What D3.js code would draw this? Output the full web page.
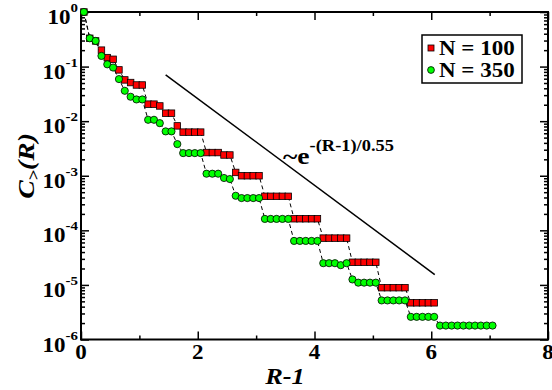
<!DOCTYPE html>
<html>
<head>
<meta charset="utf-8">
<script src="https://cdn.jsdelivr.net/npm/d3@7/dist/d3.min.js"></script>
<style>
    body { margin: 0; background: #fff; }
</style>
</head>
<body>
<div id="chart"></div>
<script>
// R-1 values shared by both series (N = 100 stops at 6.05)
const rMinus1 = [
    0.05, 0.15, 0.25, 0.35, 0.45, 0.55, 0.65, 0.75, 0.85, 0.95,
    1.05, 1.15, 1.25, 1.35, 1.45, 1.55, 1.65, 1.75, 1.85, 1.95,
    2.05, 2.15, 2.25, 2.35, 2.45, 2.55, 2.65, 2.75, 2.85, 2.95,
    3.05, 3.15, 3.25, 3.35, 3.45, 3.55, 3.65, 3.75, 3.85, 3.95,
    4.05, 4.15, 4.25, 4.35, 4.45, 4.55, 4.65, 4.75, 4.85, 4.95,
    5.05, 5.15, 5.25, 5.35, 5.45, 5.55, 5.65, 5.75, 5.85, 5.95,
    6.05, 6.15, 6.25, 6.35, 6.45, 6.55, 6.65, 6.75, 6.85, 6.95,
    7.05
];

const cN100 = [
    1, 0.33, 0.295, 0.2, 0.146, 0.136, 0.087, 0.057, 0.051, 0.046,
    0.046, 0.0205, 0.0205, 0.019, 0.014, 0.014, 0.0082, 0.0063, 0.0063, 0.0063,
    0.0063, 0.00266, 0.00266, 0.00266, 0.0024, 0.0024, 0.00115, 0.001, 0.001, 0.001,
    0.001, 0.00042, 0.00042, 0.00042, 0.00042, 0.00042, 0.000163, 0.000163, 0.000163, 0.000163,
    0.000163, 7.2e-5, 7.2e-5, 7.2e-5, 7.2e-5, 7.2e-5, 2.6e-5, 2.6e-5, 2.6e-5, 2.6e-5,
    2.6e-5, 8.9e-6, 8.9e-6, 8.9e-6, 8.9e-6, 8.9e-6, 4.7e-6, 4.7e-6, 4.7e-6, 4.7e-6,
    4.7e-6
];

const cN350 = [
    1, 0.33, 0.295, 0.157, 0.11, 0.096, 0.059, 0.036, 0.028, 0.025,
    0.025, 0.0106, 0.0106, 0.0092, 0.0065, 0.0065, 0.0038, 0.0026, 0.0026, 0.0026,
    0.0026, 0.00109, 0.00109, 0.00109, 0.00091, 0.00087, 0.00043, 0.00039, 0.00039, 0.00039,
    0.00039, 0.000162, 0.000162, 0.000162, 0.000162, 0.000162, 6.4e-5, 6.4e-5, 6.4e-5, 6.4e-5,
    6.4e-5, 2.5e-5, 2.5e-5, 2.5e-5, 2.3e-5, 2.5e-5, 1.26e-5, 1.1e-5, 1.1e-5, 1.1e-5,
    1.1e-5, 5.2e-6, 5.2e-6, 5.2e-6, 5.2e-6, 5.2e-6, 2.6e-6, 2.6e-6, 2.6e-6, 2.6e-6,
    2.6e-6, 1.8e-6, 1.8e-6, 1.8e-6, 1.8e-6, 1.8e-6, 1.8e-6, 1.8e-6, 1.8e-6, 1.8e-6,
    1.8e-6
];

const seriesNames = ["N = 100", "N = 350"];
const xMajorTicks = [0, 2, 4, 6, 8];
const xMinorTicks = [1, 3, 5, 7];
const yExponents = [0, -1, -2, -3, -4, -5, -6];
// end points of the guide line ~ e^{-(R-1)/0.55}
const guideX = [1.45, 6.06];
const guideY = [0.0705, 1.55e-5];

const W = 552, H = 390;
const plot = { left: 81, right: 548, top: 12, bottom: 339.5 };
const STRETCH = 1.15; // the reference glyphs are drawn a bit wider than Times
const FONT = "Liberation Serif";

const svg = d3.select("#chart").append("svg")
    .attr("width", W)
    .attr("height", H);

const x = d3.scaleLinear().domain([0, 8]).range([plot.left, plot.right]);
const y = d3.scaleLog().domain([1e-6, 1]).range([plot.bottom, plot.top]);

// Places a horizontally stretched text element
function label(parent, px, py, anchor, rotate) {
    return parent.append("g")
        .attr("transform", `translate(${px},${py})${rotate ? " rotate(" + rotate + ")" : ""} scale(${STRETCH},1)`)
        .append("text")
        .attr("font-family", FONT)
        .attr("font-weight", "bold")
        .attr("fill", "#000")
        .attr("text-anchor", anchor);
}

// Axes with inward ticks
const yMajor = yExponents.map((e) => Math.pow(10, e));
const yMinor = [];
yExponents.slice(1).forEach((e) => {
    for (let m = 2; m <= 9; m++) yMinor.push(m * Math.pow(10, e));
});

function styleAxis(g) {
    g.select(".domain").remove();
    g.selectAll(".tick line").attr("stroke", "#000").attr("stroke-width", 1.5);
    g.selectAll(".tick text").remove();
}

const axes = [
    [d3.axisBottom(x).tickValues(xMajorTicks).tickSize(-8), `translate(0,${plot.bottom})`],
    [d3.axisBottom(x).tickValues(xMinorTicks).tickSize(-4), `translate(0,${plot.bottom})`],
    [d3.axisTop(x).tickValues(xMajorTicks).tickSize(-8), `translate(0,${plot.top})`],
    [d3.axisTop(x).tickValues(xMinorTicks).tickSize(-4), `translate(0,${plot.top})`],
    [d3.axisLeft(y).tickValues(yMajor).tickSize(-8), `translate(${plot.left},0)`],
    [d3.axisLeft(y).tickValues(yMinor).tickSize(-4), `translate(${plot.left},0)`],
    [d3.axisRight(y).tickValues(yMajor).tickSize(-8), `translate(${plot.right},0)`],
    [d3.axisRight(y).tickValues(yMinor).tickSize(-4), `translate(${plot.right},0)`],
];
axes.forEach(([axis, tr]) => {
    svg.append("g").attr("transform", tr).call(axis).call(styleAxis);
});

svg.append("rect")
    .attr("x", plot.left)
    .attr("y", plot.top)
    .attr("width", plot.right - plot.left)
    .attr("height", plot.bottom - plot.top)
    .attr("fill", "none")
    .attr("stroke", "#000")
    .attr("stroke-width", 2);

// Tick labels
xMajorTicks.forEach((v) => {
    label(svg, x(v), plot.bottom + 19, "middle")
        .attr("font-size", 20)
        .text(v);
});

yExponents.forEach((e) => {
    const t = label(svg, plot.left - 3, y(Math.pow(10, e)) + 12, "end")
        .attr("font-size", 20);
    t.append("tspan").text("10");
    t.append("tspan")
        .attr("dy", -12)
        .attr("font-size", 13)
        .text(e === 0 ? "0" : "-" + Math.abs(e));
});

// Axis titles
label(svg, 285, 384, "middle")
    .attr("font-size", 23)
    .attr("font-style", "italic")
    .text("R-1");

const yt = label(svg, 34, 166, "middle", -90)
    .attr("font-size", 24)
    .attr("font-style", "italic");
yt.append("tspan").text("C");
yt.append("tspan").attr("dy", 5).attr("font-size", 16).text(">");
yt.append("tspan").attr("dy", -5).text("(R)");

// Series
const dataN100 = cN100.map((c, i) => [rMinus1[i], c]);
const dataN350 = cN350.map((c, i) => [rMinus1[i], c]);

const line = d3.line().x((d) => x(d[0])).y((d) => y(d[1]));

[dataN100, dataN350].forEach((data) => {
    svg.append("path")
        .datum(data)
        .attr("fill", "none")
        .attr("stroke", "#000")
        .attr("stroke-width", 1)
        .attr("stroke-dasharray", "4,3")
        .attr("d", line);
});

const sq = 6.5;
svg.append("g").selectAll("rect")
    .data(dataN100)
    .join("rect")
    .attr("x", (d) => x(d[0]) - sq / 2)
    .attr("y", (d) => y(d[1]) - sq / 2)
    .attr("width", sq)
    .attr("height", sq)
    .attr("fill", "#ff0000")
    .attr("stroke", "#000")
    .attr("stroke-width", 0.8);

svg.append("g").selectAll("circle")
    .data(dataN350)
    .join("circle")
    .attr("cx", (d) => x(d[0]))
    .attr("cy", (d) => y(d[1]))
    .attr("r", 3.6)
    .attr("fill", "#00ff00")
    .attr("stroke", "#000")
    .attr("stroke-width", 0.8);

// Guide line and its label
svg.append("line")
    .attr("x1", x(guideX[0]))
    .attr("y1", y(guideY[0]))
    .attr("x2", x(guideX[1]))
    .attr("y2", y(guideY[1]))
    .attr("stroke", "#000")
    .attr("stroke-width", 1.5);

const ann = label(svg, 283, 164, "start").attr("font-size", 24);
ann.append("tspan").text("~e");
ann.append("tspan")
    .attr("dy", -13)
    .attr("font-size", 16)
    .text("-(R-1)/0.55");

// Legend
const lg = svg.append("g");
lg.append("rect")
    .attr("x", 422)
    .attr("y", 35)
    .attr("width", 100)
    .attr("height", 48)
    .attr("fill", "#fff")
    .attr("stroke", "#000")
    .attr("stroke-width", 1.5);
lg.append("rect")
    .attr("x", 431 - 3)
    .attr("y", 48 - 3)
    .attr("width", 6)
    .attr("height", 6)
    .attr("fill", "#ff0000")
    .attr("stroke", "#000")
    .attr("stroke-width", 0.8);
lg.append("circle")
    .attr("cx", 431)
    .attr("cy", 70)
    .attr("r", 3.4)
    .attr("fill", "#00ff00")
    .attr("stroke", "#000")
    .attr("stroke-width", 0.8);
seriesNames.forEach((name, i) => {
    label(lg, 439, 55 + i * 22, "start")
        .attr("font-size", 20)
        .text(name);
});
</script>
</body>
</html>
